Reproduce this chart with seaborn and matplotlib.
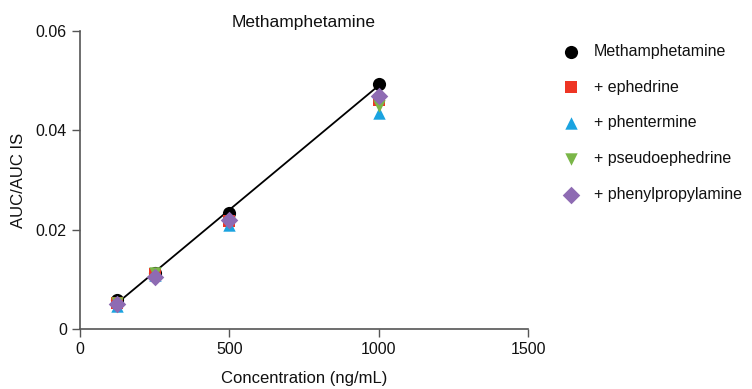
import numpy as np
import pandas as pd
import matplotlib.pyplot as plt
import seaborn as sns

conc = [125, 250, 500, 1000]
meth = [0.0058, 0.0112, 0.0234, 0.0493]
ephedrine = [0.0053, 0.0111, 0.0217, 0.0462]
phentermine = [0.0047, 0.0108, 0.0210, 0.0435]
pseudoephedrine = [0.0052, 0.0113, 0.0213, 0.0450]
phenylpropylamine = [0.0050, 0.0105, 0.0220, 0.0470]

series = ["Methamphetamine", "+ ephedrine", "+ phentermine",
          "+ pseudoephedrine", "+ phenylpropylamine"]
values = [meth, ephedrine, phentermine, pseudoephedrine, phenylpropylamine]
colors = ["#000000", "#ee3524", "#1aa3e0", "#7ab648", "#8e6bb3"]
markers = ["o", "s", "^", "v", "D"]
sizes = [90, 80, 80, 80, 80]

df = pd.DataFrame({
    "conc": conc * len(series),
    "auc": sum(values, []),
    "series": [s for s in series for _ in conc],
})

sns.set_style("white")
plt.rcParams["font.family"] = ["Liberation Sans", "DejaVu Sans"]

fig = plt.figure(figsize=(7.52, 3.89), dpi=100)
ax = fig.add_axes([80 / 752, 1 - 329 / 389, 448 / 752, 298 / 389])

sns.regplot(x=conc, y=meth, ax=ax, scatter=False, ci=None, truncate=True,
            line_kws={"color": "black", "lw": 1.3})

for s, c, m, sz in zip(series, colors, markers, sizes):
    sub = df[df["series"] == s]
    sns.scatterplot(data=sub, x="conc", y="auc", ax=ax, color=c, marker=m,
                    s=sz, linewidth=0, label=s, zorder=3)

ax.set_xlim(0, 1500)
ax.set_ylim(0, 0.06)
ax.set_xticks([0, 500, 1000, 1500])
ax.set_yticks([0, 0.02, 0.04, 0.06])
ax.set_yticklabels(["0", "0.02", "0.04", "0.06"])
ax.tick_params(axis="both", labelsize=11.5, length=6, width=1, color="#555555",
               labelcolor="#111111", direction="out", bottom=True, left=True)
for sp in ["top", "right"]:
    ax.spines[sp].set_visible(False)
for sp in ["left", "bottom"]:
    ax.spines[sp].set_color("#555555")
    ax.spines[sp].set_linewidth(1.2)

ax.set_title("Methamphetamine", fontsize=12.5, pad=3, color="#111111")
ax.set_xlabel("Concentration (ng/mL)", fontsize=12, labelpad=10, color="#111111")
ax.set_ylabel("AUC/AUC IS", fontsize=12, labelpad=7, color="#111111")

ax.legend(loc="upper left", bbox_to_anchor=(1.028, 1.005), frameon=False,
          fontsize=11.5, labelspacing=1.3, handletextpad=0.45, markerscale=1.0,
          labelcolor="#111111")

fig.savefig("out.png", dpi=100)
